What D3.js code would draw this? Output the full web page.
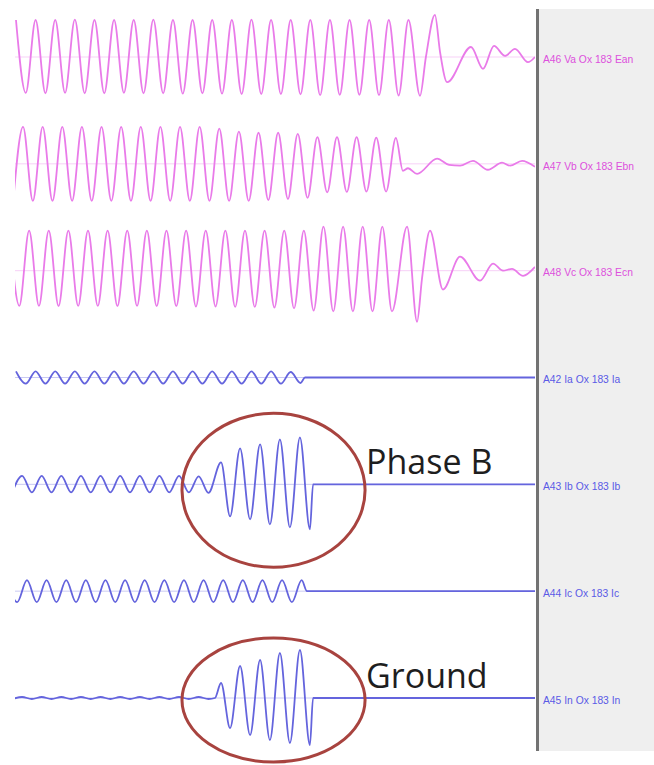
<!DOCTYPE html>
<html>
<head>
<meta charset="utf-8">
<script src="https://cdn.jsdelivr.net/npm/d3@7"></script>
<style>
	body { margin: 0; background: #fff; }
	svg { display: block; }
</style>
</head>
<body>
<div id="chart"></div>
<script>
// fault record: time in cycles, voltages in pu, currents in kA
// each "steady" list holds successive peaks / troughs, half a cycle apart
// each "tail" list holds [time, value] pairs after the fault

var channelNames = ["A46 Va Ox 183 Ean", "A47 Vb Ox 183 Ebn", "A48 Vc Ox 183 Ecn",
	"A42 Ia Ox 183 Ia", "A43 Ib Ox 183 Ib", "A44 Ic Ox 183 Ic", "A45 In Ox 183 In"];
var channelKinds = ["V", "V", "V", "I", "I", "I", "I"];

var vaStart = 0.05;
var vaSteady = [
	1.00, -0.97, 1.00, -0.98, 1.00, -0.97, 1.01, -0.98, 1.00, -0.98,
	1.00, -0.97, 1.00, -0.98, 1.01, -0.98, 1.00, -0.99, 1.00, -0.98,
	1.00, -0.99, 1.00, -1.00, 1.01, -1.00, 1.00, -1.00, 1.00, -1.01,
	1.00, -1.03, 1.00, -1.02, 1.00, -1.02, 1.00, -1.03, 1.00, -1.04,
	1.00
];
var vaTail = [[20.64, -1.05], [20.94, 0.0], [21.40, 1.14], [21.66, 0.14], [22.02, -0.68],
	[23.24, 0.27], [23.85, -0.32], [24.41, 0.30], [24.97, 0.03], [25.48, 0.22],
	[26.14, -0.14], [26.5, 0.0]];

var vbStart = -0.09;
var vbSteady = [
	-1.00, 1.00, -1.00, 1.00, -1.00, 1.00, -1.00, 1.00, -1.00, 1.00,
	-1.00, 1.00, -1.00, 1.00, -1.00, 1.00, -1.00, 1.00, -1.00, 1.00,
	-1.00, 0.95, -1.00, 0.87, -1.00, 0.84, -0.98, 0.84, -0.95, 0.81,
	-0.92, 0.72, -0.77, 0.72, -0.76, 0.72, -0.75, 0.71, -0.75, 0.70
];
var vbTail = [[19.77, -0.19], [20.03, -0.12], [20.49, -0.27], [21.51, 0.14], [22.12, -0.03],
	[22.68, -0.05], [23.34, 0.08], [24.10, -0.16], [24.82, 0.03], [25.23, -0.05],
	[25.84, 0.08], [26.5, -0.08]];

var vcStart = -0.28;
var vcSteady = [
	1.08, -0.95, 1.08, -0.95, 1.08, -0.96, 1.08, -0.95, 1.08, -0.95,
	1.08, -0.96, 1.08, -0.95, 1.08, -0.96, 1.08, -0.96, 1.08, -0.97,
	1.08, -0.97, 1.08, -0.98, 1.08, -0.98, 1.08, -1.00, 1.08, -1.02,
	1.08, -1.08, 1.19, -1.10, 1.19, -1.10, 1.19, -1.10, 1.19
];
var vcTail = [[19.21, -1.10], [19.98, 1.19], [20.49, -1.38], [20.74, -0.22], [21.15, 1.08],
	[21.81, -0.51], [22.68, 0.38], [23.70, -0.27], [24.36, 0.19], [24.87, 0.0],
	[25.33, 0.05], [25.89, -0.14], [26.5, 0.10]];

var iaStart = 0.05;
var iaSteady = [
	0.62, -0.62, 0.62, -0.62, 0.62, -0.62, 0.62, -0.62, 0.62, -0.62,
	0.62, -0.62, 0.62, -0.62, 0.62, -0.62, 0.62, -0.62, 0.62, -0.62,
	0.62, -0.62, 0.62, -0.62, 0.62, -0.62, 0.62, -0.62, 0.55, -0.55
];
var iaTail = [[14.78, 0.0], [26.5, 0.0]];

var ibStart = -0.14;
var ibSteady = [
	-0.80, 0.85, -0.80, 0.85, -0.80, 0.85, -0.80, 0.85, -0.80, 0.85,
	-0.80, 0.85, -0.80, 0.85, -0.80, 0.85, -0.80, 0.85, -0.80, 0.80,
	-0.85
];
var ibTail = [[10.50, 2.2], [10.96, -3.2], [11.47, 3.6], [11.98, -3.5], [12.49, 4.0],
	[12.99, -4.0], [13.50, 4.5], [14.01, -4.3], [14.52, 4.7], [15.03, -4.5],
	[15.19, 0.0], [26.5, 0.0]];

var icStart = -0.39;
var icSteady = [
	1.10, -1.10, 1.10, -1.10, 1.10, -1.10, 1.10, -1.10, 1.10, -1.10,
	1.10, -1.10, 1.10, -1.10, 1.10, -1.10, 1.10, -1.10, 1.10, -1.10,
	1.10, -1.10, 1.10, -1.10, 1.10, -1.10, 1.10, -1.10, 1.10, -1.10,
	1.10
];
var icTail = [[14.88, 0.0], [26.5, 0.0]];

var inStart = -0.14;
var inSteady = [
	-0.10, 0.10, -0.10, 0.10, -0.10, 0.10, -0.10, 0.10, -0.10, 0.10,
	-0.10, 0.10, -0.10, 0.10, -0.10, 0.10, -0.10, 0.10, -0.10, 0.10,
	-0.10
];
var inTail = [[10.19, 0.0], [10.50, 1.5], [10.96, -3.0], [11.47, 3.2], [11.98, -3.7],
	[12.49, 3.8], [12.99, -4.2], [13.50, 4.5], [14.01, -4.5], [14.52, 4.8],
	[15.03, -4.7], [15.19, 0.0], [26.5, 0.0]];

// annotations: label, channel index, [t from, t to, value low, value high]
var noteLabels = ["Phase B", "Ground"];
var noteChannels = [4, 6];
var noteBoxes = [[8.51, 17.84, -8.3, 7.1], [8.51, 17.84, -6.4, 6.0]];

var starts = [vaStart, vbStart, vcStart, iaStart, ibStart, icStart, inStart];
var steadies = [vaSteady, vbSteady, vcSteady, iaSteady, ibSteady, icSteady, inSteady];
var tails = [vaTail, vbTail, vcTail, iaTail, ibTail, icTail, inTail];

// ------------------------------------------------------------------------------------------

var width = 654, height = 765;
var colors = { V: "#e97be9", I: "#6464dd" };
var labelColors = { V: "#dd50dd", I: "#5a5ae6" };
var pxPerUnit = { V: 37, I: 10 };

var svg = d3.select("#chart").append("svg")
	.attr("width", width)
	.attr("height", height);

svg.append("rect").attr("width", width).attr("height", height).attr("fill", "#fff");

var x = d3.scaleLinear().domain([0, 26.5]).range([15, 535]);
var rows = d3.scalePoint().domain(channelNames).range([57, 698]);

// channel name panel
svg.append("rect")
	.attr("x", 539).attr("y", 9)
	.attr("width", width - 539).attr("height", 742)
	.attr("fill", "#efefef");
svg.append("rect")
	.attr("x", 536).attr("y", 9)
	.attr("width", 3).attr("height", 742)
	.attr("fill", "#727272");

svg.append("clipPath").attr("id", "plot")
	.append("rect")
	.attr("x", x(0)).attr("y", 0)
	.attr("width", x(26.5) - x(0)).attr("height", height);

var plot = svg.append("g").attr("clip-path", "url(#plot)");

var yScales = [];

for (var i = 0; i < channelNames.length; i++) {
	var kind = channelKinds[i];
	var base = rows(channelNames[i]);
	var y = d3.scaleLinear()
		.domain([-1, 1])
		.range([base + pxPerUnit[kind], base - pxPerUnit[kind]]);
	yScales.push(y);

	var pts = [];
	for (var k = 0; k < steadies[i].length; k++) {
		pts.push([starts[i] + k * 0.5, steadies[i][k]]);
	}
	pts = pts.concat(tails[i]);

	// zero line
	plot.append("line")
		.attr("x1", x(0)).attr("x2", x(26.5))
		.attr("y1", y(0)).attr("y2", y(0))
		.attr("stroke", colors[kind])
		.attr("stroke-opacity", 0.35)
		.attr("stroke-width", 1);

	var line = d3.line()
		.x(function (d) { return x(d[0]); })
		.y(function (d) { return y(d[1]); })
		.curve(d3.curveMonotoneX);

	plot.append("path")
		.datum(pts)
		.attr("d", line)
		.attr("fill", "none")
		.attr("stroke", colors[kind])
		.attr("stroke-width", 1.8)
		.attr("stroke-linejoin", "round");

	svg.append("text")
		.attr("x", 543)
		.attr("y", base + 3)
		.attr("dominant-baseline", "middle")
		.attr("font-family", "Liberation Sans, Arial, sans-serif")
		.attr("font-size", "10.3px")
		.attr("fill", labelColors[kind])
		.text(channelNames[i]);
}

// circled areas
for (var n = 0; n < noteLabels.length; n++) {
	var box = noteBoxes[n];
	var ys = yScales[noteChannels[n]];
	var yz = ys(0);
	var cx = (x(box[0]) + x(box[1])) / 2;
	var cy = (ys(box[2]) + ys(box[3])) / 2;

	svg.append("ellipse")
		.attr("cx", cx).attr("cy", cy)
		.attr("rx", (x(box[1]) - x(box[0])) / 2)
		.attr("ry", (ys(box[2]) - ys(box[3])) / 2)
		.attr("fill", "none")
		.attr("stroke", "#a8433f")
		.attr("stroke-width", 3);

	svg.append("text")
		.attr("x", x(box[1]) + 1)
		.attr("y", yz - 10)
		.attr("font-family", "Open Sans, sans-serif")
		.attr("font-size", "34px")
		.attr("fill", "#1e1e1e")
		.text(noteLabels[n]);
}
</script>
</body>
</html>
